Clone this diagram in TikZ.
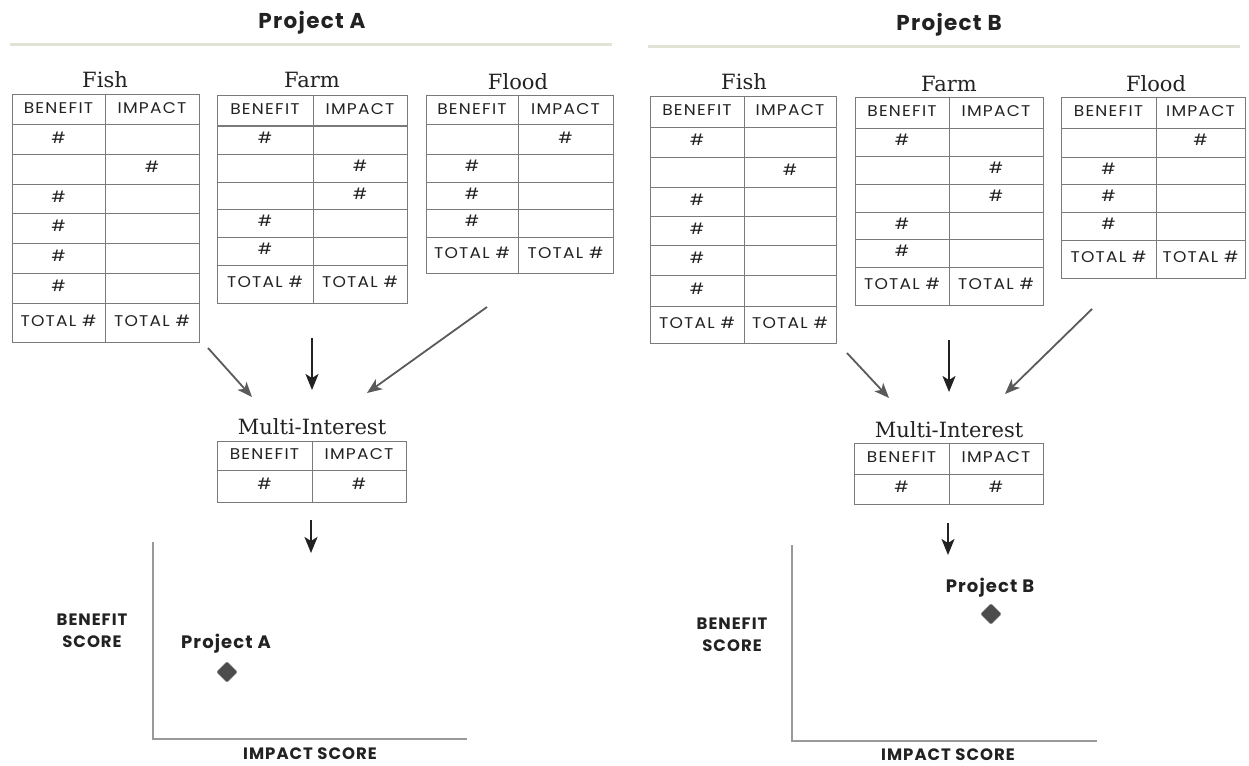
\documentclass[tikz,border=0pt]{standalone}
\usepackage{fontspec}
\usetikzlibrary{arrows.meta,shapes.geometric}
\newfontfamily\hdfont[LetterSpace=6]{Poppins}
\newfontfamily\cellfont[LetterSpace=8,FakeStretch=1.1]{Poppins}
\newfontfamily\ttlfont{DejaVu Serif}
\definecolor{gridc}{HTML}{7A7A7A}
\definecolor{rulec}{HTML}{E2E3D6}
\definecolor{arrc}{HTML}{5A5A5A}
\definecolor{txtc}{HTML}{222222}
\newcommand\tbl[6]{%
  \draw[grid] (#1,#4) rectangle (#3,#5);
  \draw[grid] (#2,#4) -- (#2,#5);
  \foreach \yy in {#6} {\draw[grid] (#1,\yy) -- (#3,\yy);}
}
\begin{document}
\begin{tikzpicture}[x=1pt,y=-1pt,
  grid/.style={draw=gridc,line width=1pt},
  cell/.style={font=\cellfont\fontsize{15.5}{17}\selectfont,text=txtc,inner sep=0pt,text height=0.7em,text depth=0pt,anchor=center},
  ttl/.style={font=\ttlfont\fontsize{21}{24}\selectfont,text=txtc,inner sep=0pt,anchor=base},
  head/.style={font=\hdfont\bfseries\fontsize{21.5}{24}\selectfont,text=txtc,inner sep=0pt,anchor=base},
  lab/.style={font=\hdfont\bfseries\fontsize{16.5}{19}\selectfont,text=txtc,inner sep=0pt,anchor=base},
  plab/.style={font=\hdfont\bfseries\fontsize{18}{20}\selectfont,text=txtc,inner sep=0pt,anchor=base},
  side/.style={arrc,line width=1.8pt,-{Stealth[length=15pt,width=12pt,inset=4pt]}},
  down/.style={txtc,line width=2pt,-{Stealth[length=16pt,width=13pt,inset=4pt]}},
  axis/.style={draw=gray!80,line width=1.4pt},
  dmark/.style={diamond,fill=black!70,draw=black!55,rounded corners=1.5pt,minimum width=21pt,minimum height=21pt,inner sep=0pt}]
\useasboundingbox (0,0) rectangle (1249,765);
% ---------- headings
\node[head] (hA) at (312,29) {Project A};
\node[head] (hB) at (949,31) {Project B};
\draw[rulec,line width=3pt] (10,45) -- (612,45);
\draw[rulec,line width=3pt] (648,47) -- (1240,47);
% ================= PROJECT A
% Fish A
\node[ttl] (tFishA) at (105,88) {Fish};
\tbl{12}{105}{199}{95}{342}{125,154,184,213,243,273,303}
\node[cell] (fA0b) at (58.5,110) {BENEFIT};
\node[cell] (fA0i) at (152,110) {IMPACT};
\node[cell] (fA1) at (58.5,139.5) {\#};
\node[cell] (fA2) at (152,169) {\#};
\node[cell] (fA3) at (58.5,198.5) {\#};
\node[cell] (fA4) at (58.5,228) {\#};
\node[cell] (fA5) at (58.5,258) {\#};
\node[cell] (fA6) at (58.5,288) {\#};
\node[cell] (fATb) at (58.5,322.5) {TOTAL \#};
\node[cell] (fATi) at (152,322.5) {TOTAL \#};
% Farm A
\node[ttl] (tFarmA) at (312,88) {Farm};
\tbl{217}{313}{407}{96}{303}{126,154,182,209,237,265}
\node[cell] (gA0b) at (265,111) {BENEFIT};
\node[cell] (gA0i) at (360,111) {IMPACT};
\node[cell] (gA1) at (265,140) {\#};
\node[cell] (gA2) at (360,168) {\#};
\node[cell] (gA3) at (360,195.5) {\#};
\node[cell] (gA4) at (265,223) {\#};
\node[cell] (gA5) at (265,251) {\#};
\node[cell] (gATb) at (265,284) {TOTAL \#};
\node[cell] (gATi) at (360,284) {TOTAL \#};
% Flood A
\node[ttl] (tFloodA) at (518,90) {Flood};
\tbl{426}{518}{613}{96}{273}{125,154,182,209,237}
\node[cell] (hA0b) at (472,110.5) {BENEFIT};
\node[cell] (hA0i) at (565.5,110.5) {IMPACT};
\node[cell] (hA1) at (565.5,139.5) {\#};
\node[cell] (hA2) at (472,168) {\#};
\node[cell] (hA3) at (472,195.5) {\#};
\node[cell] (hA4) at (472,223) {\#};
\node[cell] (hATb) at (472,255) {TOTAL \#};
\node[cell] (hATi) at (565.5,255) {TOTAL \#};
% Multi A
\node[ttl] (tMultiA) at (312,434) {Multi-Interest};
\tbl{217}{312}{406}{441}{502}{470}
\node[cell] (mA0b) at (264.5,455.5) {BENEFIT};
\node[cell] (mA0i) at (359,455.5) {IMPACT};
\node[cell] (mA1b) at (264.5,486) {\#};
\node[cell] (mA1i) at (359,486) {\#};
% arrows A
\coordinate (a1s) at (208,348); \coordinate (a1e) at (252,397);
\coordinate (a2s) at (312,338); \coordinate (a2e) at (312,390);
\coordinate (a3s) at (487,307); \coordinate (a3e) at (367,393);
\coordinate (a4s) at (311,520); \coordinate (a4e) at (311,553);
\draw[side] (a1s) -- (a1e);
\draw[down] (a2s) -- (a2e);
\draw[side] (a3s) -- (a3e);
\draw[down] (a4s) -- (a4e);
% plot A
\coordinate (oA) at (153,739);
\draw[axis] (153,542) -- (oA) -- (467,739);
\node[lab] (bsA1) at (92,625) {BENEFIT};
\node[lab] (bsA2) at (92,647) {SCORE};
\node[lab] (isA) at (310,759.5) {IMPACT SCORE};
\node[plab] (pA) at (226,648) {Project A};
\node[dmark] (dA) at (227,672) {};
% ================= PROJECT B
% Fish B
\node[ttl] (tFishB) at (744,90) {Fish};
\tbl{650}{744}{836}{97}{343}{127,157,187,216,245,275,306}
\node[cell] (fB0b) at (697,112) {BENEFIT};
\node[cell] (fB0i) at (790,112) {IMPACT};
\node[cell] (fB1) at (697,142) {\#};
\node[cell] (fB2) at (790,172) {\#};
\node[cell] (fB3) at (697,201.5) {\#};
\node[cell] (fB4) at (697,230.5) {\#};
\node[cell] (fB5) at (697,260) {\#};
\node[cell] (fB6) at (697,290.5) {\#};
\node[cell] (fBTb) at (697,324.5) {TOTAL \#};
\node[cell] (fBTi) at (790,324.5) {TOTAL \#};
% Farm B
\node[ttl] (tFarmB) at (949,92) {Farm};
\tbl{855}{949}{1043}{98}{305}{128,156,184,212,239,267}
\node[cell] (gB0b) at (902,113) {BENEFIT};
\node[cell] (gB0i) at (996,113) {IMPACT};
\node[cell] (gB1) at (902,142) {\#};
\node[cell] (gB2) at (996,170) {\#};
\node[cell] (gB3) at (996,198) {\#};
\node[cell] (gB4) at (902,225.5) {\#};
\node[cell] (gB5) at (902,253) {\#};
\node[cell] (gBTb) at (902,286) {TOTAL \#};
\node[cell] (gBTi) at (996,286) {TOTAL \#};
% Flood B
\node[ttl] (tFloodB) at (1156,92) {Flood};
\tbl{1061}{1156}{1245}{98}{278}{128,157,184,212,240}
\node[cell] (hB0b) at (1108.5,113) {BENEFIT};
\node[cell] (hB0i) at (1200.5,113) {IMPACT};
\node[cell] (hB1) at (1200.5,142.5) {\#};
\node[cell] (hB2) at (1108.5,170.5) {\#};
\node[cell] (hB3) at (1108.5,198) {\#};
\node[cell] (hB4) at (1108.5,226) {\#};
\node[cell] (hBTb) at (1108.5,259) {TOTAL \#};
\node[cell] (hBTi) at (1200.5,259) {TOTAL \#};
% Multi B
\node[ttl] (tMultiB) at (949,437) {Multi-Interest};
\tbl{854}{949}{1043}{443}{504}{474}
\node[cell] (mB0b) at (901.5,458.5) {BENEFIT};
\node[cell] (mB0i) at (996,458.5) {IMPACT};
\node[cell] (mB1b) at (901.5,489) {\#};
\node[cell] (mB1i) at (996,489) {\#};
% arrows B
\coordinate (b1s) at (847,353); \coordinate (b1e) at (889,398);
\coordinate (b2s) at (949,340); \coordinate (b2e) at (949,392);
\coordinate (b3s) at (1092,309); \coordinate (b3e) at (1005,394);
\coordinate (b4s) at (948,523); \coordinate (b4e) at (948,555);
\draw[side] (b1s) -- (b1e);
\draw[down] (b2s) -- (b2e);
\draw[side] (b3s) -- (b3e);
\draw[down] (b4s) -- (b4e);
% plot B
\coordinate (oB) at (792,741);
\draw[axis] (792,545) -- (oB) -- (1097,741);
\node[lab] (bsB1) at (732,629) {BENEFIT};
\node[lab] (bsB2) at (732,651) {SCORE};
\node[lab] (isB) at (948,760) {IMPACT SCORE};
\node[plab] (pB) at (990,592) {Project B};
\node[dmark] (dB) at (991,614) {};
\end{tikzpicture}
\end{document}
